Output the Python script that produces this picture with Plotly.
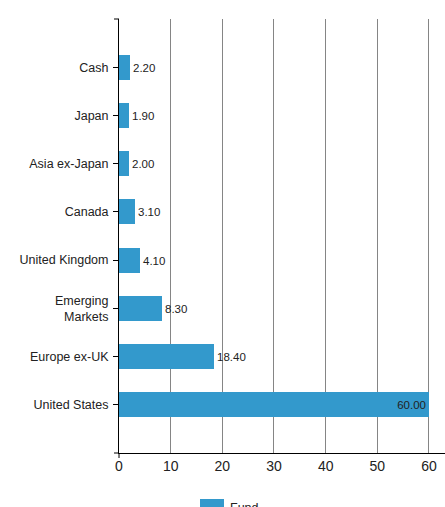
import plotly.graph_objects as go

# Regional allocation of the fund (%)
regions = ["Cash", "Japan", "Asia ex-Japan", "Canada", "United Kingdom",
           "Emerging<br>Markets", "Europe ex-UK", "United States"]
weights = [2.20, 1.90, 2.00, 3.10, 4.10, 8.30, 18.40, 60.00]
series_name = "Fund"
x_ticks = [0, 10, 20, 30, 40, 50, 60]

BAR = "#3399cc"
INK = "#222222"
FONT = "Arial, Liberation Sans, sans-serif"

W, H = 445, 507
ML, MR, MT, MB = 119, 0, 19, 54
PW, PH = W - ML - MR, H - MT - MB

top = max(weights)
positions = ["inside" if v == top else "outside" for v in weights]

fig = go.Figure(go.Bar(
    x=weights,
    y=regions,
    orientation="h",
    name=series_name,
    marker=dict(color=BAR, line=dict(width=0)),
    width=0.52,
    texttemplate="%{x:.2f}",
    textposition=positions,
    insidetextanchor="end",
    textfont=dict(family=FONT, size=11.5, color=INK),
    insidetextfont=dict(family=FONT, size=11.5, color=INK),
    outsidetextfont=dict(family=FONT, size=11.5, color=INK),
    cliponaxis=False,
    showlegend=False,
))


def px_x(p):
    return (p - ML) / PW


def px_y(p):
    return (MT + PH - p) / PH


shapes = [
    # outer ticks at the ends of the axis lines
    dict(type="line", xref="paper", yref="paper", x0=px_x(114), x1=0, y0=1, y1=1,
         line=dict(color="black", width=1)),
    dict(type="line", xref="paper", yref="paper", x0=px_x(114), x1=0, y0=0, y1=0,
         line=dict(color="black", width=1)),
    dict(type="line", xref="paper", yref="paper", x0=0, x1=0, y0=0, y1=px_y(458),
         line=dict(color="black", width=1)),
    # legend swatch
    dict(type="rect", xref="paper", yref="paper", x0=px_x(200), x1=px_x(224),
         y0=px_y(499), y1=px_y(511), fillcolor=BAR, line=dict(width=0)),
]

fig.update_layout(
    width=W, height=H,
    margin=dict(l=ML, r=MR, t=MT, b=MB, autoexpand=False),
    paper_bgcolor="white", plot_bgcolor="white",
    font=dict(family=FONT, color=INK),
    bargap=0,
    shapes=shapes,
    annotations=[dict(
        text=series_name, xref="paper", yref="paper",
        x=px_x(228), y=px_y(499), xanchor="left", yanchor="top",
        showarrow=False, font=dict(family=FONT, size=12.5, color=INK),
    )],
    xaxis=dict(
        range=[0, 63.1],
        tickvals=x_ticks,
        ticktext=[str(t) for t in x_ticks],
        tickfont=dict(family=FONT, size=14, color=INK),
        showgrid=True, gridcolor="#858585", gridwidth=1,
        zeroline=False,
        showline=True, linecolor="black", linewidth=1,
        ticks="", fixedrange=True,
    ),
    yaxis=dict(
        type="category",
        categoryorder="array", categoryarray=regions,
        range=[8, -1],
        tickfont=dict(family=FONT, size=12.5, color=INK),
        showgrid=False, zeroline=False,
        showline=True, linecolor="black", linewidth=1,
        ticks="outside", ticklen=5, tickcolor="black", tickwidth=1,
        ticklabelstandoff=2,
        fixedrange=True,
    ),
)

fig.write_html("out.html")
